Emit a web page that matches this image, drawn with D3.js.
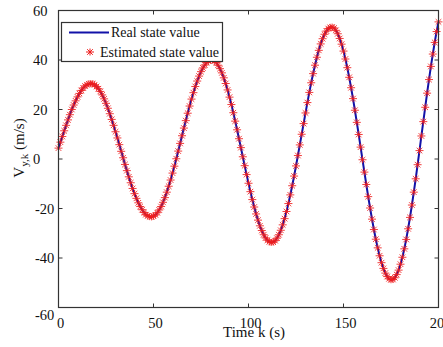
<!DOCTYPE html>
<html>
<head>
<meta charset="utf-8">
<script src="https://cdn.jsdelivr.net/npm/d3@7"></script>
<style>
  body { margin: 0; background: #fff; }
  svg text { font-family: "Liberation Serif", "Times New Roman", serif; fill: #111; }
</style>
</head>
<body>
<div id="svg-container"></div>
<script>
// data: V_y,k, one value per time step k = 0..200
const timeSteps = d3.range(0, 201);
const realValues = [
  4.4, 6.8, 9.1, 11.4, 13.6, 15.8, 17.9, 20.0, 21.8, 23.5,
  25.1, 26.5, 27.7, 28.7, 29.5, 30.0, 30.4, 30.5, 30.4, 30.0,
  29.3, 28.4, 27.3, 25.9, 24.3, 22.5, 20.5, 18.3, 16.0, 13.6,
  11.0, 8.5, 5.8, 3.1, 0.5, -2.2, -4.7, -7.2, -9.6, -11.9,
  -14.0, -15.9, -17.7, -19.2, -20.5, -21.6, -22.5, -23.0, -23.3, -23.4,
  -23.1, -22.6, -21.7, -20.6, -19.2, -17.5, -15.6, -13.4, -11.0, -8.5,
  -5.7, -2.9, 0.1, 3.2, 6.3, 9.4, 12.5, 15.5, 18.5, 21.4,
  24.2, 26.8, 29.3, 31.5, 33.5, 35.3, 36.8, 38.0, 39.0, 39.6,
  39.9, 40.0, 39.6, 39.0, 37.9, 36.5, 34.8, 32.8, 30.5, 27.9,
  25.0, 22.0, 18.7, 15.3, 11.8, 8.2, 4.6, 0.9, -2.7, -6.3,
  -9.8, -13.2, -16.4, -19.4, -22.2, -24.7, -27.0, -28.9, -30.6, -31.9,
  -32.8, -33.5, -33.7, -33.6, -33.0, -32.0, -30.6, -28.8, -26.6, -24.1,
  -21.2, -18.0, -14.5, -10.8, -6.9, -2.8, 1.4, 5.7, 10.0, 14.3,
  18.6, 22.8, 26.9, 30.8, 34.5, 37.9, 41.1, 43.9, 46.5, 48.6,
  50.4, 51.7, 52.7, 53.2, 53.3, 52.9, 52.0, 50.6, 48.7, 46.4,
  43.6, 40.4, 36.9, 33.0, 28.8, 24.4, 19.7, 14.8, 9.9, 4.8,
  -0.3, -5.3, -10.3, -15.2, -19.8, -24.3, -28.5, -32.4, -35.9, -39.1,
  -41.9, -44.2, -46.1, -47.5, -48.4, -48.8, -48.7, -48.0, -46.7, -44.9,
  -42.5, -39.7, -36.3, -32.5, -28.2, -23.6, -18.6, -13.4, -8.0, -2.3,
  3.4, 9.3, 15.1, 20.9, 26.6, 32.1, 37.4, 42.4, 47.1, 51.5,
  55.4
];
// the estimate sits right on top of the real curve
const estimatedValues = realValues.slice();

const xTicks = [0, 50, 100, 150, 200];
const yTicks = [-60, -40, -20, 0, 20, 40, 60];
const legendLabels = ["Real state value", "Estimated state value"];

////////////////////////////  Init  ///////////////////////////////
const width = 443;
const height = 347;
const margin = { top: 10.5, right: 4.5, bottom: 39.5, left: 58.5 };

const svg = d3.select("#svg-container").append("svg")
  .attr("width", width)
  .attr("height", height);

const xScale = d3.scaleLinear().domain([0, 200]).range([margin.left, width - margin.right]);
const yScale = d3.scaleLinear().domain([-60, 60]).range([height - margin.bottom, margin.top]);

const lineColor = "#1212a8";
const markColor = "#ee1c1c";
const axisColor = "#333";

// ticks (inward, on all four sides)
const tickLen = 4;
const gTicks = svg.append("g").attr("stroke", axisColor).attr("stroke-width", 1);
xTicks.forEach((t) => {
  gTicks.append("line")
    .attr("x1", xScale(t)).attr("x2", xScale(t))
    .attr("y1", yScale(-60)).attr("y2", yScale(-60) - tickLen);
  gTicks.append("line")
    .attr("x1", xScale(t)).attr("x2", xScale(t))
    .attr("y1", yScale(60)).attr("y2", yScale(60) + tickLen);
});
yTicks.forEach((t) => {
  gTicks.append("line")
    .attr("x1", xScale(0)).attr("x2", xScale(0) + tickLen)
    .attr("y1", yScale(t)).attr("y2", yScale(t));
  gTicks.append("line")
    .attr("x1", xScale(200)).attr("x2", xScale(200) - tickLen)
    .attr("y1", yScale(t)).attr("y2", yScale(t));
});

// tick labels
svg.append("g")
  .selectAll("text")
  .data(xTicks)
  .enter()
  .append("text")
  .attr("x", (d) => xScale(d) + 2)
  .attr("y", yScale(-60) + 20)
  .attr("text-anchor", "middle")
  .attr("font-size", 14.5)
  .text((d) => d);

svg.append("g")
  .selectAll("text")
  .data(yTicks)
  .enter()
  .append("text")
  .attr("x", (d) => (d < 0 ? 35 : 33))
  .attr("y", (d) => yScale(d) + (d === -60 ? 12 : 5))
  .attr("font-size", 14.5)
  .text((d) => d);

// curve + markers
const line = d3.line()
  .x((d, i) => xScale(timeSteps[i]))
  .y((d) => yScale(d));

svg.append("path")
  .datum(realValues)
  .attr("d", line)
  .attr("fill", "none")
  .attr("stroke", lineColor)
  .attr("stroke-width", 2);

const star = "M-4,0H4M0,-3.5V3.5M-2.8,-2.8L2.8,2.8M-2.8,2.8L2.8,-2.8";

svg.append("g")
  .selectAll("path")
  .data(estimatedValues)
  .enter()
  .append("path")
  .attr("d", star)
  .attr("transform", (d, i) => `translate(${xScale(timeSteps[i])},${yScale(d)})`)
  .attr("fill", "none")
  .attr("stroke", markColor)
  .attr("stroke-width", 1)
  .attr("opacity", 0.85);

// axes box
svg.append("rect")
  .attr("x", xScale(0))
  .attr("y", yScale(60))
  .attr("width", xScale(200) - xScale(0))
  .attr("height", yScale(-60) - yScale(60))
  .attr("fill", "none")
  .attr("stroke", axisColor)
  .attr("stroke-width", 1.2);

// legend
const legend = svg.append("g");
legend.append("rect")
  .attr("x", 61.5).attr("y", 22.5)
  .attr("width", 161).attr("height", 39)
  .attr("fill", "#fff")
  .attr("stroke", axisColor)
  .attr("stroke-width", 1.2);
legend.append("line")
  .attr("x1", 69).attr("x2", 109)
  .attr("y1", 32.5).attr("y2", 32.5)
  .attr("stroke", lineColor)
  .attr("stroke-width", 2);
legend.append("path")
  .attr("d", star)
  .attr("transform", "translate(90,52)")
  .attr("fill", "none")
  .attr("stroke", markColor)
  .attr("stroke-width", 1);
legend.selectAll("text.lg")
  .data(legendLabels)
  .enter()
  .append("text")
  .attr("class", "lg")
  .attr("x", (d, i) => (i === 0 ? 111 : 100))
  .attr("y", (d, i) => (i === 0 ? 37 : 56.5))
  .attr("font-size", 14)
  .text((d) => d);

// axis labels
svg.append("text")
  .attr("x", 254)
  .attr("y", 337)
  .attr("text-anchor", "middle")
  .attr("font-size", 15)
  .text("Time k (s)");

const yLab = svg.append("text")
  .attr("transform", "translate(24,148) rotate(-90)")
  .attr("text-anchor", "middle")
  .attr("font-size", 15);
yLab.append("tspan").text("V");
yLab.append("tspan").attr("font-size", 11).attr("dy", 4).text("y,k");
yLab.append("tspan").attr("dy", -4).text(" (m/s)");
</script>
</body>
</html>
